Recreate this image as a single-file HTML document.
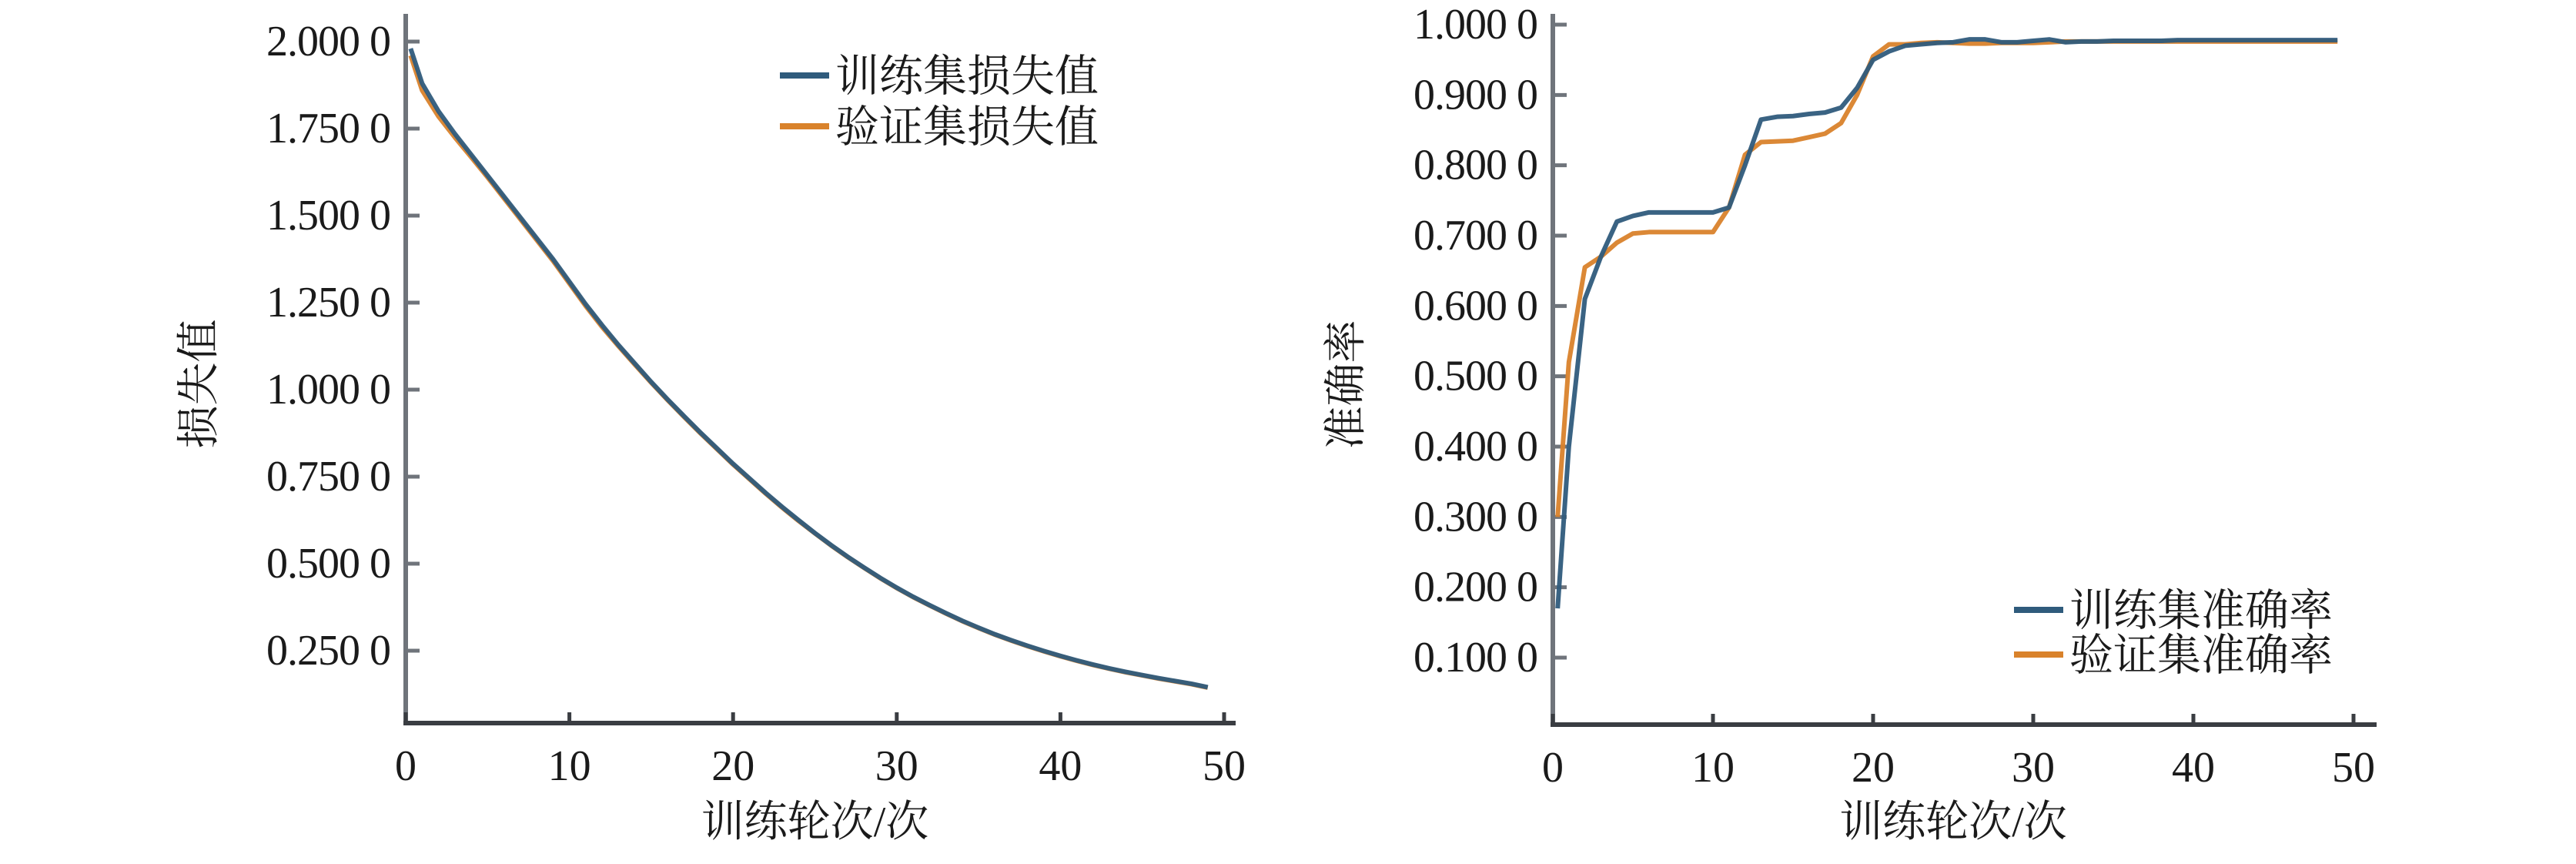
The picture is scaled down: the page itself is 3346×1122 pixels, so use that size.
<!DOCTYPE html>
<html><head><meta charset="utf-8"><style>
html,body{margin:0;padding:0;background:#fff;}
svg{display:block;}
text{font-family:"Liberation Serif","Noto Serif CJK SC",serif;fill:#1a1a1a;}
.cjk{font-family:"Liberation Serif","Noto Serif CJK SC",serif;}
</style></head><body>
<svg id="c" width="3346" height="1122" viewBox="0 0 3346 1122"></svg>
<script>
const epochs=[];for(let i=0;i<50;i++)epochs.push(i);
const lossTrain=[1.98,1.88,1.80,1.735,1.675,1.615,1.555,1.495,1.435,1.375,1.31,1.245,1.185,1.128,1.075,1.022,0.972,0.924,0.877,0.832,0.787,0.745,0.703,0.663,0.625,0.588,0.553,0.520,0.489,0.459,0.431,0.405,0.381,0.358,0.336,0.316,0.297,0.280,0.264,0.249,0.235,0.222,0.210,0.199,0.189,0.180,0.171,0.163,0.155,0.145];
const lossVal=[1.96,1.86,1.785,1.725,1.668,1.61,1.55,1.49,1.43,1.37,1.305,1.24,1.18,1.125,1.072,1.02,0.97,0.922,0.875,0.83,0.785,0.743,0.701,0.661,0.623,0.587,0.552,0.519,0.488,0.458,0.430,0.404,0.380,0.357,0.335,0.315,0.296,0.279,0.263,0.248,0.234,0.221,0.209,0.198,0.188,0.179,0.170,0.162,0.154,0.144];
const accTrain=[0.17,0.40,0.61,0.67,0.72,0.728,0.733,0.733,0.733,0.733,0.733,0.74,0.80,0.865,0.869,0.87,0.873,0.875,0.882,0.91,0.95,0.962,0.97,0.972,0.974,0.975,0.979,0.979,0.975,0.975,0.977,0.979,0.975,0.976,0.976,0.977,0.977,0.977,0.977,0.978,0.978,0.978,0.978,0.978,0.978,0.978,0.978,0.978,0.978,0.978];
const accVal=[0.30,0.52,0.655,0.67,0.69,0.703,0.705,0.705,0.705,0.705,0.705,0.74,0.815,0.833,0.834,0.835,0.84,0.845,0.86,0.90,0.955,0.972,0.972,0.974,0.975,0.974,0.973,0.973,0.974,0.974,0.974,0.975,0.976,0.976,0.976,0.976,0.976,0.976,0.976,0.976,0.976,0.976,0.976,0.976,0.976,0.976,0.976,0.976,0.976,0.976];
const xTicks=[0,10,20,30,40,50];
const lossTicks=[2.0,1.75,1.5,1.25,1.0,0.75,0.5,0.25];
const lossTickLabels=["2.000 0","1.750 0","1.500 0","1.250 0","1.000 0","0.750 0","0.500 0","0.250 0"];
const accTicks=[1.0,0.9,0.8,0.7,0.6,0.5,0.4,0.3,0.2,0.1];
const accTickLabels=["1.000 0","0.900 0","0.800 0","0.700 0","0.600 0","0.500 0","0.400 0","0.300 0","0.200 0","0.100 0"];
const NS="http://www.w3.org/2000/svg";const svg=document.getElementById('c');
function mk(t,a,p){const e=document.createElementNS(NS,t);for(const k in a)e.setAttribute(k,a[k]);(p||svg).appendChild(e);return e;}
const BLUE="#2f5b7c",ORANGE="#d9822b",AX="#6f747b";
function panel(o){
  const g=mk('g',{});
  const xs=v=>o.x0+(o.x50-o.x0)*v/50;
  const ys=v=>o.yA+(o.vA-v)*(o.yB-o.yA)/(o.vA-o.vB);
  let e=mk('line',{x1:o.x0,y1:o.top,x2:o.x0,y2:o.bottom+3,stroke:AX,'stroke-width':6},g);
  
  e=mk('line',{x1:o.x0-3,y1:o.bottom,x2:o.xEnd,y2:o.bottom,stroke:"#3a3d42",'stroke-width':6},g);
  
  o.yt.forEach((v,i)=>{const y=ys(v);
    mk('line',{x1:o.x0,y1:y,x2:o.x0+18,y2:y,stroke:AX,'stroke-width':5},g);
    const t=mk('text',{x:o.x0-20,y:y+18,'font-size':56,'text-anchor':'end','letter-spacing':-1},g);t.textContent=o.yl[i];
    });
  xTicks.forEach(v=>{const x=xs(v);
    mk('line',{x1:x,y1:o.bottom,x2:x,y2:o.bottom-14,stroke:"#3a3d42",'stroke-width':5},g);
    const t=mk('text',{x:x,y:o.bottom+74,'font-size':56,'text-anchor':'middle'},g);t.textContent=v;
    });
  [[o.s2,ORANGE,'val-line'],[o.s1,BLUE,'train-line']].forEach(([s,c,n])=>{
    const pts=s.map((v,i)=>xs(epochs[i]+(i==0?0.3:0))+','+ys(v)).join(' ');
    const p=mk('polyline',{points:pts,fill:'none',stroke:c,'stroke-width':6,'stroke-linejoin':'round',opacity:0.95},g);
    });
  let t=mk('text',{class:'cjk','font-size':56,'text-anchor':'middle',transform:`translate(${o.x0-250},${(o.top+o.bottom)/2+20}) rotate(-90)`},g);
  t.textContent=o.ytitle;
  t=mk('text',{class:'cjk',x:(o.x0+o.x50)/2,y:1086,'font-size':56,'text-anchor':'middle'},g);
  t.textContent='训练轮次/次';
  o.leg.forEach((L,i)=>{const y=o.ly+i*o.lgap;
    const lg=mk('g',{},g);
    mk('line',{x1:o.lx,y1:y,x2:o.lx+64,y2:y,stroke:i?ORANGE:BLUE,'stroke-width':8},lg);
    const tt=mk('text',{class:'cjk',x:o.lx+72,y:y+20,'font-size':57},lg);tt.textContent=L;});
}
panel({name:'loss-panel',x0:527,x50:1590,xEnd:1605,top:18,bottom:939,vA:2.0,yA:54,vB:0.25,yB:845,yt:lossTicks,yl:lossTickLabels,s1:lossTrain,s2:lossVal,ytitle:'损失值',leg:['训练集损失值','验证集损失值'],lx:1013,ly:98,lgap:66});
panel({name:'accuracy-panel',x0:2017,x50:3057,xEnd:3087,top:18,bottom:941,vA:1.0,yA:32,vB:0.1,yB:854,yt:accTicks,yl:accTickLabels,s1:accTrain,s2:accVal,ytitle:'准确率',leg:['训练集准确率','验证集准确率'],lx:2616,ly:792,lgap:58});
</script>
</body></html>
